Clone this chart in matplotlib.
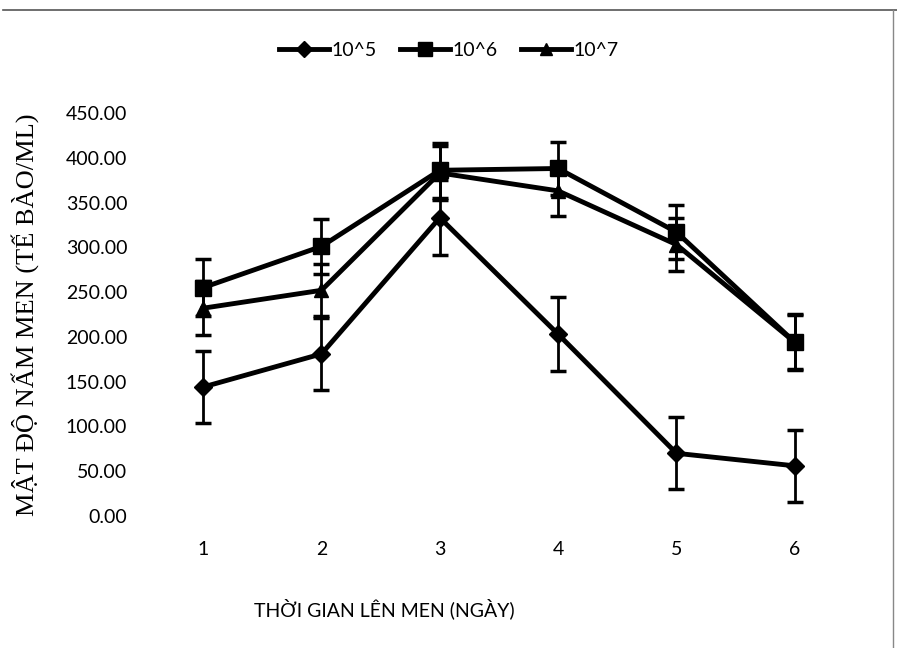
import numpy as np
import matplotlib.pyplot as plt
from matplotlib.lines import Line2D

days = [1, 2, 3, 4, 5, 6]
series_names = ["10^5", "10^6", "10^7"]
vals_1e5 = [144, 181, 333, 203, 70, 56]
vals_1e6 = [255, 301, 386, 388, 317, 194]
vals_1e7 = [232, 252, 383, 363, 303, 194]
err_1e5 = [40, 40, 42, 41, 40, 40]
err_1e6 = [32, 31, 31, 30, 30, 31]
err_1e7 = [30, 29, 30, 28, 30, 30]
yticks = [0, 50, 100, 150, 200, 250, 300, 350, 400, 450]

TICK_FONT = ["Lato", "DejaVu Sans"]

fig = plt.figure(figsize=(8.97, 6.48), dpi=100)
ax = fig.add_axes([0.1605, 0.2037, 0.7915, 0.622])

x = np.arange(len(days))
styles = [("D", 9), ("s", 11), ("^", 10)]
data = [(vals_1e5, err_1e5), (vals_1e6, err_1e6), (vals_1e7, err_1e7)]
# 10^7 first so the squares sit on top like in the original
for i in [2, 1, 0]:
    v, e = data[i]
    m, ms = styles[i]
    ax.errorbar(x, v, yerr=e, color="black", lw=3.5, marker=m, ms=ms,
                ecolor="black", elinewidth=2, capsize=6, capthick=2.5,
                label=series_names[i], zorder=3 + i)

ax.set_xlim(-0.5, len(days) - 0.5)
ax.set_ylim(0, 450)
ax.set_xticks(x)
ax.set_xticklabels([str(d) for d in days])
ax.set_yticks(yticks)
ax.set_yticklabels([f"{t:.2f}" for t in yticks])
for s in ax.spines.values():
    s.set_visible(False)
ax.tick_params(axis="both", length=0, labelsize=14)
ax.tick_params(axis="y", pad=12)
ax.tick_params(axis="x", pad=18)
for lab in ax.get_xticklabels() + ax.get_yticklabels():
    lab.set_family(TICK_FONT)

ax.set_xlabel("THỜI GIAN LÊN MEN (NGÀY)", family=TICK_FONT, fontsize=14)
ax.xaxis.set_label_coords(0.338, -0.205)
ax.set_ylabel("MẬT ĐỘ NẤM MEN (TẾ BÀO/ML)", family=["Liberation Serif", "DejaVu Serif"],
              fontsize=19)
ax.yaxis.set_label_coords(-0.148, 0.5)

handles = [Line2D([], [], color="black", lw=3.5, marker=styles[i][0], ms=styles[i][1] - 1)
           for i in range(3)]
fig.legend(handles, series_names, loc="center", bbox_to_anchor=(0.5, 0.922),
           ncol=3, frameon=False, handlelength=2.6, handletextpad=0.1,
           columnspacing=1.2, prop={"family": TICK_FONT, "size": 14})

# page border remnants
fig.add_artist(Line2D([0.003, 1.0], [0.985, 0.985], color="#555555", lw=1.2))
fig.add_artist(Line2D([0.995, 0.995], [0.0, 0.985], color="#888888", lw=1))

fig.savefig("out.png", dpi=100)
